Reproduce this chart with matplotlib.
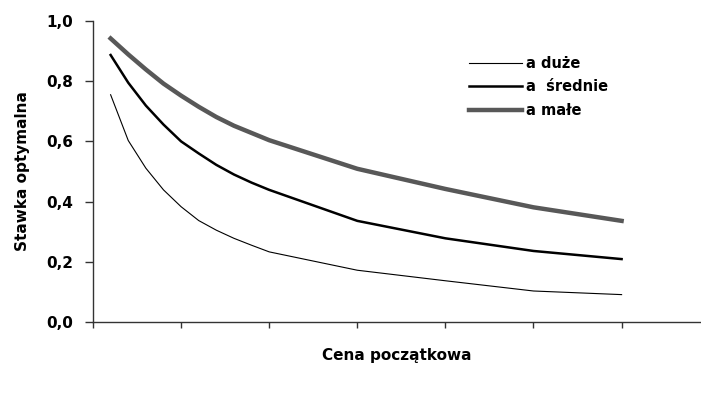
import matplotlib.pyplot as plt
from matplotlib.ticker import FuncFormatter

# cena początkowa
cena = [1, 2, 3, 4, 5, 6, 7, 8, 9, 10, 15, 20, 25, 30]

# stawka optymalna dla trzech wartości a
a_duze    = [0.755, 0.603, 0.511, 0.439, 0.383, 0.337, 0.305, 0.278, 0.255, 0.233, 0.172, 0.137, 0.103, 0.091]
a_srednie = [0.887, 0.795, 0.719, 0.656, 0.600, 0.560, 0.522, 0.490, 0.463, 0.439, 0.336, 0.278, 0.236, 0.209]
a_male    = [0.942, 0.889, 0.839, 0.792, 0.752, 0.715, 0.681, 0.652, 0.628, 0.604, 0.509, 0.442, 0.381, 0.336]

plt.rcParams['font.family'] = ['DejaVu Sans']
plt.rcParams['font.weight'] = 'bold'

fig = plt.figure(figsize=(7.01, 3.94), dpi=100)
ax  = fig.add_axes([93/701, 1 - 322/394, 607/701, 301/394])

ax.plot(cena, a_duze,    c='black',   lw=0.8, label='a duże')
ax.plot(cena, a_srednie, c='black',   lw=1.8, label='a  średnie')
ax.plot(cena, a_male,    c='#585858', lw=3.2, label='a małe')

ax.set_xlim(0, 34.45)
ax.set_ylim(0, 1.0)
ax.set_xticks([0, 5, 10, 15, 20, 25, 30])
ax.set_xticklabels([])
ax.set_yticks([0, 0.2, 0.4, 0.6, 0.8, 1.0])
ax.yaxis.set_major_formatter(FuncFormatter(lambda v, p: f'{v:.1f}'.replace('.', ',')))

ax.spines['top'].set_visible(False)
ax.spines['right'].set_visible(False)
for s in ['left', 'bottom']:
    ax.spines[s].set_color('#333333')
    ax.spines[s].set_linewidth(1.0)
ax.tick_params(axis='y', length=6, width=1, color='#333333', labelsize=11, pad=8)
ax.tick_params(axis='x', length=4, width=1, color='#333333')
for t in ax.get_yticklabels():
    t.set_fontweight('bold')

ax.set_ylabel('Stawka optymalna', fontsize=11, fontweight='bold', labelpad=12)
ax.set_xlabel('Cena początkowa', fontsize=11, fontweight='bold', labelpad=11)

ax.legend(loc='upper left', bbox_to_anchor=(0.62, 0.885), frameon=False,
          handlelength=3.6, handletextpad=0.3, labelspacing=0.6,
          borderpad=0, borderaxespad=0, prop={'weight': 'bold', 'size': 10.5})

fig.savefig('out.png', dpi=100)
